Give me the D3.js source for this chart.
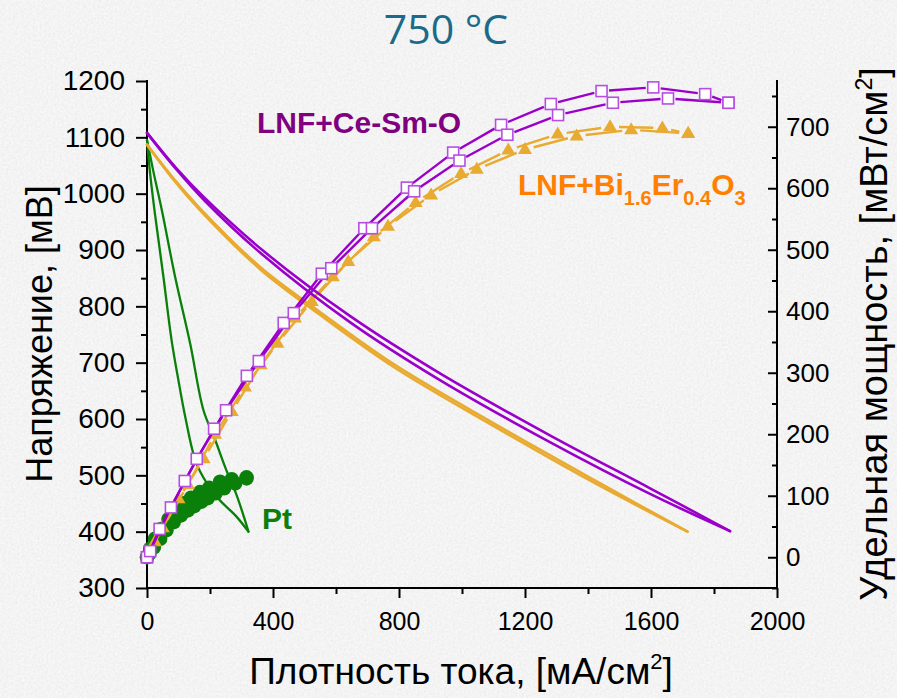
<!DOCTYPE html>
<html><head><meta charset="utf-8">
<script src="https://cdn.jsdelivr.net/npm/d3@7"></script>
<style>body{margin:0;background:#e6e6e6}svg{display:block}</style>
</head><body>
<svg id="chart" width="897" height="698"></svg>
<script>
// ---------- data ----------
const title = "750 °C";
const xTicks = [0, 400, 800, 1200, 1600, 2000];
const xMinor = [200, 600, 1000, 1400, 1800];
const vTicks = [300, 400, 500, 600, 700, 800, 900, 1000, 1100, 1200];
const vMinor = [350, 450, 550, 650, 750, 850, 950, 1050, 1150];
const pTicks = [0, 100, 200, 300, 400, 500, 600, 700];
const pMinor = [-50, 50, 150, 250, 350, 450, 550, 650, 750];

// Voltage–current curves (j in mA/cm2, V in mV)
const viCeSmA_j = [0, 92, 184, 368, 644, 930, 1279, 1597, 1851];
const viCeSmA_v = [1108, 1046, 992, 899, 783, 681, 571, 477, 401];
const viCeSmB_j = [0, 92, 184, 368, 644, 930, 1279, 1597, 1851];
const viCeSmB_v = [1108, 1044, 987, 891, 772, 669, 559, 467, 401];
const viBiErA_j = [0, 84, 168, 359, 549, 787, 1105, 1422, 1716];
const viBiErA_v = [1087, 1027, 974, 870, 790, 696, 591, 491, 400];
const viBiErB_j = [0, 84, 168, 359, 549, 787, 1105, 1422, 1716];
const viBiErB_v = [1087, 1025, 971, 866, 785, 691, 586, 486, 400];
const viPtA_j = [0, 10, 25, 52, 78, 100, 121, 155, 190, 229, 282, 322];
const viPtA_v = [1095, 1035, 965, 853, 740, 668, 605, 524, 486, 457, 428, 400];
const viPtB_j = [0, 20, 47, 89, 137, 179, 213, 250, 283, 309, 322];
const viPtB_v = [1095, 1040, 971, 853, 734, 616, 568, 512, 467, 424, 400];

// Power density curves (j in mA/cm2, P in mW/cm2)
const pCeSmA_j = [0, 40, 120, 213, 317, 434, 555, 690, 825, 972, 1124, 1282, 1443, 1607, 1772, 1846];
const pCeSmA_p = [0, 46, 124, 209, 295, 381, 461, 535, 601, 658, 703, 737, 758, 764, 753, 739];
const pCeSmB_j = [0, 10, 76, 158, 251, 355, 466, 585, 714, 848, 992, 1144, 1305, 1479, 1654, 1846];
const pCeSmB_p = [0, 10, 81, 160, 239, 319, 397, 470, 535, 595, 645, 687, 719, 739, 746, 739];
const pBiErA_j = [0, 50, 130, 216, 311, 414, 523, 639, 765, 902, 1047, 1200, 1364, 1537, 1718];
const pBiErA_p = [0, 48, 118, 200, 277, 348, 416, 481, 538, 589, 631, 663, 685, 695, 689];
const pBiErB_j = [0, 25, 100, 180, 269, 361, 470, 590, 720, 853, 997, 1147, 1304, 1470, 1636, 1718];
const pBiErB_p = [0, 25, 95, 160, 237, 313, 389, 456, 521, 577, 624, 662, 688, 700, 698, 689];
const pPtA_j = [0, 10, 25, 45, 68, 92, 115, 140, 168, 197, 232, 269, 316];
const pPtA_p = [0, 14, 30, 46, 62, 76, 88, 97, 106, 113, 123, 127, 130];
const pPtB_j = [0, 8, 22, 42, 62, 85, 108, 130, 150, 172, 193, 218, 245, 280, 316];
const pPtB_p = [0, 6, 16, 30, 44, 57, 68, 76, 83, 90, 96, 104, 112, 120, 128];

const zip = (a, b) => a.map((v, i) => [v, b[i]]);

// ---------- chart ----------
const svg = d3.select('#chart');
const defs = svg.append('defs');
const flt = defs.append('filter').attr('id', 'paper')
  .attr('x', 0).attr('y', 0).attr('width', '100%').attr('height', '100%');
flt.append('feTurbulence').attr('type', 'fractalNoise').attr('baseFrequency', '0.45')
  .attr('numOctaves', 3).attr('seed', 7).attr('result', 't');
flt.append('feColorMatrix').attr('in', 't').attr('type', 'saturate').attr('values', 0).attr('result', 'g');
const ct = flt.append('feComponentTransfer').attr('in', 'g');
['R', 'G', 'B'].forEach(c => ct.append('feFunc' + c).attr('type', 'linear').attr('slope', 0.2).attr('intercept', 0.8));
ct.append('feFuncA').attr('type', 'linear').attr('slope', 0).attr('intercept', 1);
svg.append('rect').attr('width', 897).attr('height', 698).attr('filter', 'url(#paper)');

const x = d3.scaleLinear().domain([0, 2000]).range([147, 777]);
const yL = d3.scaleLinear().domain([300, 1200]).range([588, 81]);
const yR = d3.scaleLinear().domain([-50, 776]).range([588, 80]);

const FONT = '"Liberation Sans", Arial, sans-serif';
const fmt = d3.format('d');

// title
svg.append('text').attr('x', 446).attr('y', 44).attr('text-anchor', 'middle')
  .attr('font-family', '"Open Sans", sans-serif').attr('font-size', 41)
  .attr('fill', '#1b6a89').text(title);

// axes
function styleAxis(g, fs) {
  g.selectAll('.tick line').attr('stroke', '#000').attr('stroke-width', 2);
  g.selectAll('.tick text').attr('font-family', FONT).attr('font-size', fs).attr('fill', '#000');
  g.select('.domain').remove();
}
const gL = svg.append('g').attr('transform', 'translate(147,0)')
  .call(d3.axisLeft(yL).tickValues(vTicks).tickFormat(fmt).tickSize(11).tickPadding(11));
styleAxis(gL, 28);
const gLm = svg.append('g').attr('transform', 'translate(147,0)')
  .call(d3.axisLeft(yL).tickValues(vMinor).tickSize(6).tickFormat(''));
styleAxis(gLm, 0);

const gB = svg.append('g').attr('transform', 'translate(0,588)')
  .call(d3.axisBottom(x).tickValues(xTicks).tickFormat(fmt).tickSize(10).tickPadding(14));
styleAxis(gB, 25);
const gBm = svg.append('g').attr('transform', 'translate(0,588)')
  .call(d3.axisBottom(x).tickValues(xMinor).tickSize(6).tickFormat(''));
styleAxis(gBm, 0);

const gR = svg.append('g').attr('transform', 'translate(777,0)')
  .call(d3.axisRight(yR).tickValues(pTicks).tickFormat(fmt).tickSize(-9).tickPadding(9));
styleAxis(gR, 26);
const gRm = svg.append('g').attr('transform', 'translate(777,0)')
  .call(d3.axisRight(yR).tickValues(pMinor).tickSize(-5).tickFormat(''));
styleAxis(gRm, 0);

// axis lines
svg.append('line').attr('x1', 147).attr('x2', 147).attr('y1', 80).attr('y2', 589).attr('stroke', '#000').attr('stroke-width', 2);
svg.append('line').attr('x1', 146).attr('x2', 778).attr('y1', 588).attr('y2', 588).attr('stroke', '#000').attr('stroke-width', 2);
svg.append('line').attr('x1', 777).attr('x2', 777).attr('y1', 80).attr('y2', 589).attr('stroke', '#000').attr('stroke-width', 2);

// axis titles
svg.append('text').attr('transform', 'translate(52,334) rotate(-90)').attr('text-anchor', 'middle')
  .attr('font-family', FONT).attr('font-size', 36).attr('fill', '#000').text('Напряжение, [мВ]');
const xt = svg.append('text').attr('x', 461).attr('y', 684).attr('text-anchor', 'middle')
  .attr('font-family', FONT).attr('font-size', 37).attr('fill', '#000');
xt.append('tspan').text('Плотность тока, [мА/см');
xt.append('tspan').attr('font-size', 22).attr('dy', -15).text('2');
xt.append('tspan').attr('dy', 15).text(']');
const rt = svg.append('text').attr('transform', 'translate(887,334) rotate(-90)').attr('text-anchor', 'middle')
  .attr('font-family', FONT).attr('font-size', 38).attr('fill', '#000');
rt.append('tspan').text('Удельная мощность, [мВт/см');
rt.append('tspan').attr('font-size', 23).attr('dy', -15).text('2');
rt.append('tspan').attr('dy', 15).text(']');

// ---------- series ----------
const C_PURPLE = '#9a00c9', C_SQ = '#b64fe0', C_ORANGE = '#e8aa30', C_GREEN = '#0a800a';
const lineVI = d3.line().x(d => x(d[0])).y(d => yL(d[1])).curve(d3.curveCatmullRom.alpha(0.5));

function drawVI(j, v, color, w) {
  svg.append('path').datum(zip(j, v)).attr('d', lineVI)
    .attr('fill', 'none').attr('stroke', color).attr('stroke-width', w).attr('stroke-linecap', 'round');
}
function gapped(pts, gap) {
  const segs = [];
  for (let i = 0; i < pts.length - 1; i++) {
    const [x0, y0] = pts[i], [x1, y1] = pts[i + 1];
    const dx = x1 - x0, dy = y1 - y0, L = Math.hypot(dx, dy);
    if (L <= 2 * gap + 1) continue;
    const ux = dx / L, uy = dy / L;
    segs.push([x0 + ux * gap, y0 + uy * gap, x1 - ux * gap, y1 - uy * gap]);
  }
  return segs;
}
function drawPowerLine(j, p, color, gap, w) {
  const pts = zip(j, p).map(d => [x(d[0]), yR(d[1])]);
  svg.append('g').selectAll('line').data(gapped(pts, gap)).join('line')
    .attr('x1', d => d[0]).attr('y1', d => d[1]).attr('x2', d => d[2]).attr('y2', d => d[3])
    .attr('stroke', color).attr('stroke-width', w);
}

// Pt
drawVI(viPtA_j, viPtA_v, C_GREEN, 2.3);
drawVI(viPtB_j, viPtB_v, C_GREEN, 2.3);
[[pPtA_j, pPtA_p], [pPtB_j, pPtB_p]].forEach(([j, p]) => {
  svg.append('g').selectAll('circle').data(zip(j, p)).join('circle')
    .attr('cx', d => x(d[0])).attr('cy', d => yR(d[1])).attr('r', 7.2).attr('fill', C_GREEN);
});

// Bi-Er
drawVI(viBiErA_j, viBiErA_v, C_ORANGE, 2.6);
drawVI(viBiErB_j, viBiErB_v, C_ORANGE, 2.6);
drawPowerLine(pBiErA_j, pBiErA_p, C_ORANGE, 9, 2.4);
drawPowerLine(pBiErB_j, pBiErB_p, C_ORANGE, 9, 2.4);
const tri = 'M0,-7.5L7,4.5L-7,4.5Z';
[[pBiErA_j, pBiErA_p], [pBiErB_j, pBiErB_p]].forEach(([j, p]) => {
  svg.append('g').selectAll('path').data(zip(j, p)).join('path')
    .attr('transform', d => `translate(${x(d[0])},${yR(d[1])})`).attr('d', tri).attr('fill', C_ORANGE);
});

// Ce-Sm
drawVI(viCeSmA_j, viCeSmA_v, C_PURPLE, 2.6);
drawVI(viCeSmB_j, viCeSmB_v, C_PURPLE, 2.6);
drawPowerLine(pCeSmA_j, pCeSmA_p, C_PURPLE, 7.5, 2.4);
drawPowerLine(pCeSmB_j, pCeSmB_p, C_PURPLE, 7.5, 2.4);
[[pCeSmA_j, pCeSmA_p], [pCeSmB_j, pCeSmB_p]].forEach(([j, p]) => {
  svg.append('g').selectAll('rect').data(zip(j, p)).join('rect')
    .attr('x', d => x(d[0]) - 5.5).attr('y', d => yR(d[1]) - 5.5).attr('width', 11).attr('height', 11)
    .attr('fill', '#fff').attr('stroke', C_SQ).attr('stroke-width', 1.6);
});

// annotations
svg.append('text').attr('x', 257).attr('y', 133).attr('font-family', FONT).attr('font-weight', 'bold')
  .attr('font-size', 30).attr('fill', '#800080').text('LNF+Ce-Sm-O');
const bl = svg.append('text').attr('x', 518).attr('y', 195).attr('font-family', FONT).attr('font-weight', 'bold')
  .attr('font-size', 30).attr('fill', '#ff8000');
bl.append('tspan').text('LNF+Bi');
bl.append('tspan').attr('font-size', 20).attr('dy', 10).text('1.6');
bl.append('tspan').attr('dy', -10).text('Er');
bl.append('tspan').attr('font-size', 20).attr('dy', 10).text('0.4');
bl.append('tspan').attr('dy', -10).text('O');
bl.append('tspan').attr('font-size', 20).attr('dy', 10).text('3');
svg.append('text').attr('x', 262).attr('y', 529).attr('font-family', FONT).attr('font-weight', 'bold')
  .attr('font-size', 30).attr('fill', C_GREEN).text('Pt');
</script>
</body></html>
